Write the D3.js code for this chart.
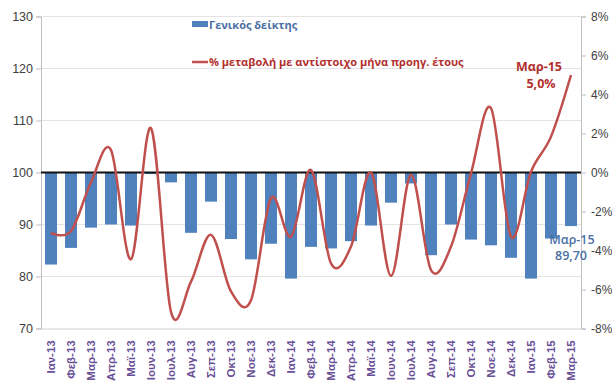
<!DOCTYPE html>
<html><head><meta charset="utf-8">
<script src="https://cdn.jsdelivr.net/npm/d3@7"></script>
<style>body{margin:0;background:#fff}svg{display:block;font-family:"Open Sans","Liberation Sans",sans-serif}</style>
</head><body>
<svg id="c" width="612" height="381"></svg>
<script>
const categories = ["Ιαν-13","Φεβ-13","Μαρ-13","Απρ-13","Μαϊ-13","Ιουν-13","Ιουλ-13","Αυγ-13","Σεπ-13","Οκτ-13","Νοε-13","Δεκ-13",
 "Ιαν-14","Φεβ-14","Μαρ-14","Απρ-14","Μαϊ-14","Ιουν-14","Ιουλ-14","Αυγ-14","Σεπ-14","Οκτ-14","Νοε-14","Δεκ-14",
 "Ιαν-15","Φεβ-15","Μαρ-15"];
const indexValues = [82.3,85.5,89.4,90.0,89.8,99.7,98.1,88.4,94.4,87.2,83.3,86.3,
 79.6,85.7,85.4,86.8,89.8,94.2,97.9,84.1,90.0,87.1,86.0,83.6,79.6,87.3,89.7];
const pctChange = [-3.1,-3.0,-0.5,1.15,-4.45,2.27,-7.15,-5.6,-3.2,-6.1,-6.55,-1.32,
 -3.29,0.13,-4.66,-3.8,0.0,-5.3,-0.13,-5.0,-3.8,-0.04,3.3,-3.29,0.04,1.84,5.0];
const leftTicks = [70,80,90,100,110,120,130];
const rightTicks = [-8,-6,-4,-2,0,2,4,6,8];
const seriesNames = ["Γενικός δείκτης","% μεταβολή με αντίστοιχο μήνα προηγ. έτους"];

const svg = d3.select("#c");
const L = 41, R = 581, T = 16.5, B = 328.5;
const x = d3.scaleBand().domain(categories).range([L, R]).paddingInner(0.4).paddingOuter(0.2);
const y = d3.scaleLinear().domain([70,130]).range([B, T]);
const y2 = d3.scaleLinear().domain([-8,8]).range([B, T]);
const blue = "#4f81bd", red = "#c0504d";

// gridlines
svg.append("g").selectAll("line").data(leftTicks.filter(t=>t!==70&&t!==100)).join("line")
  .attr("x1", L).attr("x2", R).attr("y1", d=>y(d)).attr("y2", d=>y(d))
  .attr("stroke", "#e3e3e3").attr("stroke-width", 1);

// left axis
const gl = svg.append("g").attr("transform", `translate(${L},0)`)
  .call(d3.axisLeft(y).tickValues(leftTicks).tickSize(5).tickPadding(3));
gl.select(".domain").attr("stroke", "#bfbfbf");
gl.selectAll(".tick line").attr("stroke", "#bfbfbf");
gl.selectAll("text").attr("font-size", 12.5).attr("fill", "#404040").attr("font-family", "'Liberation Sans',sans-serif");

// right axis
const gr = svg.append("g").attr("transform", `translate(${R},0)`)
  .call(d3.axisRight(y2).tickValues(rightTicks).tickSize(5).tickPadding(5).tickFormat(d=>d+"%"));
gr.select(".domain").attr("stroke", "#bfbfbf");
gr.selectAll(".tick line").attr("stroke", "#bfbfbf");
gr.selectAll("text").attr("font-size", 12).attr("fill", "#404040").attr("font-family", "'Liberation Sans',sans-serif");

// bottom axis
const gb = svg.append("g").attr("transform", `translate(0,${B})`)
  .call(d3.axisBottom(x).tickSize(0).tickPadding(6));
gb.select(".domain").attr("stroke", "#d0d0d0");
gb.selectAll("text")
  .attr("transform", "rotate(-90)")
  .attr("text-anchor", "end")
  .attr("dx", "-0.5em").attr("dy", "0.35em").attr("y", 0).attr("x", -6)
  .attr("font-size", 11.5).attr("font-weight", "600").attr("fill", "#6a4f96");

// bars
svg.append("g").selectAll("rect").data(indexValues).join("rect")
  .attr("x", (d,i)=>x(categories[i]))
  .attr("width", x.bandwidth())
  .attr("y", y(100))
  .attr("height", d=>y(d)-y(100))
  .attr("fill", blue);

// base line at 100
svg.append("line").attr("x1", L).attr("x2", R).attr("y1", y(100)).attr("y2", y(100))
  .attr("stroke", "#111").attr("stroke-width", 2);

// line
const line = d3.line().x((d,i)=>x(categories[i])+x.bandwidth()/2).y(d=>y2(d)).curve(d3.curveCatmullRom.alpha(0));
svg.append("path").datum(pctChange).attr("d", line)
  .attr("fill", "none").attr("stroke", red).attr("stroke-width", 2.5);

// legend
const lg = svg.append("g").attr("font-size", 11).attr("font-weight", "700");
lg.append("rect").attr("x", 192).attr("y", 21).attr("width", 16).attr("height", 6).attr("fill", blue);
lg.append("text").attr("x", 209).attr("y", 29).attr("fill", "#4a6fa5").text(seriesNames[0]);
lg.append("line").attr("x1", 192).attr("x2", 208).attr("y1", 62).attr("y2", 62).attr("stroke", red).attr("stroke-width", 2.5);
lg.append("text").attr("x", 209).attr("y", 66).attr("fill", "#b2302e").text(seriesNames[1]);

// annotations
const last = categories.length-1;
const cx = x(categories[last])+x.bandwidth()/2;
const ann1 = svg.append("g").attr("font-size", 12.5).attr("font-weight", "700").attr("fill", "#b2302e").attr("text-anchor", "middle");
ann1.append("text").attr("x", cx-32).attr("y", y2(pctChange[last])-4).text(categories[last]);
ann1.append("text").attr("x", cx-30).attr("y", y2(pctChange[last])+13).text(d3.format(".1f")(pctChange[last]).replace(".",",")+"%");
const ann2 = svg.append("g").attr("font-size", 12.5).attr("fill", "#4a6fa5").attr("text-anchor", "middle").attr("font-weight","600");
ann2.append("text").attr("x", cx+1).attr("y", y(indexValues[last])+18).text(categories[last]);
ann2.append("text").attr("x", cx).attr("y", y(indexValues[last])+34).text(d3.format(".2f")(indexValues[last]).replace(".",","));
</script>
</body></html>
